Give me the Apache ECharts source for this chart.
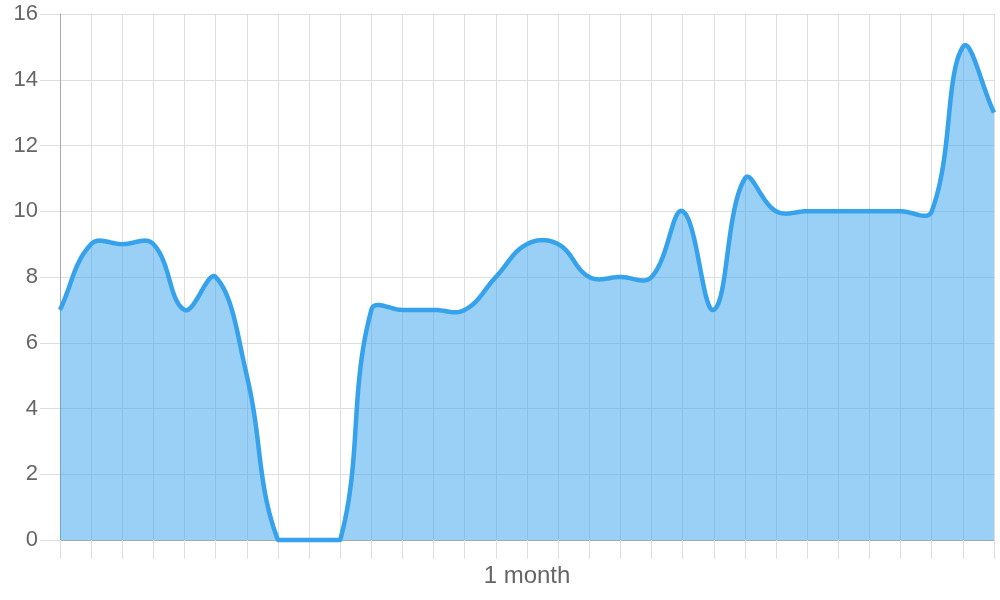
<!DOCTYPE html>
<html>
<head>
<meta charset="utf-8">
<script src="https://cdn.jsdelivr.net/npm/echarts@6/dist/echarts.min.js"></script>
<style>
html,body{margin:0;padding:0;background:#fff;}
#chart{width:1000px;height:600px;}
</style>
</head>
<body>
<div id="chart"></div>
<script>
// Categories: 31 days in one month
const categories = ['1','2','3','4','5','6','7','8','9','10','11','12','13','14','15','16','17','18','19','20','21','22','23','24','25','26','27','28','29','30','31'];
// Series values
const values = [7,9,9,9,7,8,5,0,0,0,7,7,7,7,8,9,9,8,8,8,10,7,11,10,10,10,10,10,10,15,13];
// Axis title
const xAxisTitle = '1 month';
// Y tick range
const yMin = 0, yMax = 16, yStep = 2;

const TENSION = 0.4;
const chart = echarts.init(document.getElementById('chart'), null, {renderer: 'canvas'});
const font = 'Liberation Sans, Arial, sans-serif';

function renderCurve(params, api) {
  if (params.dataIndex !== 0) return null;
  const pts = values.map((v, i) => api.coord([i, v]));
  const area = params.coordSys;
  const top = area.y, bottom = area.y + area.height, left = area.x, right = area.x + area.width;
  const n = pts.length;
  const cps = [];
  for (let i = 0; i < n; i++) {
    const cur = pts[i];
    const prev = pts[i - 1] || cur;
    const next = pts[i + 1] || cur;
    const d01 = Math.hypot(cur[0] - prev[0], cur[1] - prev[1]);
    const d12 = Math.hypot(next[0] - cur[0], next[1] - cur[1]);
    let s01 = d01 / (d01 + d12), s12 = d12 / (d01 + d12);
    if (!isFinite(s01)) s01 = 0;
    if (!isFinite(s12)) s12 = 0;
    const fa = TENSION * s01, fb = TENSION * s12;
    const clampY = y => Math.max(top, Math.min(bottom, y));
    const clampX = x => Math.max(left, Math.min(right, x));
    cps.push({
      p: [clampX(cur[0] - fa * (next[0] - prev[0])), clampY(cur[1] - fa * (next[1] - prev[1]))],
      n: [clampX(cur[0] + fb * (next[0] - prev[0])), clampY(cur[1] + fb * (next[1] - prev[1]))]
    });
  }
  const line = [pts[0]];
  const STEPS = 24;
  for (let i = 1; i < n; i++) {
    const p0 = pts[i - 1], c1 = cps[i - 1].n, c2 = cps[i].p, p3 = pts[i];
    for (let s = 1; s <= STEPS; s++) {
      const t = s / STEPS, u = 1 - t;
      const x = u*u*u*p0[0] + 3*u*u*t*c1[0] + 3*u*t*t*c2[0] + t*t*t*p3[0];
      const y = u*u*u*p0[1] + 3*u*u*t*c1[1] + 3*u*t*t*c2[1] + t*t*t*p3[1];
      line.push([x, y]);
    }
  }
  const base0 = api.coord([0, yMin]);
  const baseN = api.coord([n - 1, yMin]);
  const poly = line.concat([[baseN[0], baseN[1]], [base0[0], base0[1]]]);
  return {
    type: 'group',
    children: [
      {type: 'polygon', shape: {points: poly}, style: {fill: 'rgba(54,162,235,0.5)', stroke: null}},
      {type: 'polyline', shape: {points: line}, style: {fill: null, stroke: '#36a2eb', lineWidth: 4.5, lineJoin: 'round', lineCap: 'butt'}}
    ]
  };
}

chart.setOption({
  animation: false,
  backgroundColor: '#ffffff',
  grid: {left: 60, right: 6, top: 14, bottom: 60, containLabel: false},
  xAxis: {
    type: 'category',
    data: categories,
    boundaryGap: false,
    name: xAxisTitle,
    nameLocation: 'middle',
    nameGap: 24,
    nameTextStyle: {color: '#666', fontSize: 24, fontFamily: font},
    axisLine: {show: true, lineStyle: {color: '#a8a8a8', width: 1}},
    axisTick: {show: true, length: 19, interval: 0, lineStyle: {color: '#dedede', width: 1}},
    axisLabel: {show: false},
    splitLine: {show: true, interval: 0, lineStyle: {color: '#dedede', width: 1}}
  },
  yAxis: {
    type: 'value',
    min: yMin, max: yMax, interval: yStep,
    axisLine: {show: true, lineStyle: {color: '#a8a8a8', width: 1}},
    axisTick: {show: true, length: 20, lineStyle: {color: '#dedede', width: 1}},
    axisLabel: {color: '#666', fontSize: 22, fontFamily: font, margin: 22},
    splitLine: {show: true, lineStyle: {color: '#dedede', width: 1}}
  },
  series: [{
    type: 'custom',
    renderItem: renderCurve,
    encode: {x: 0, y: 1},
    data: values.map((v, i) => [i, v]),
    clip: false
  }]
});
</script>
</body>
</html>
